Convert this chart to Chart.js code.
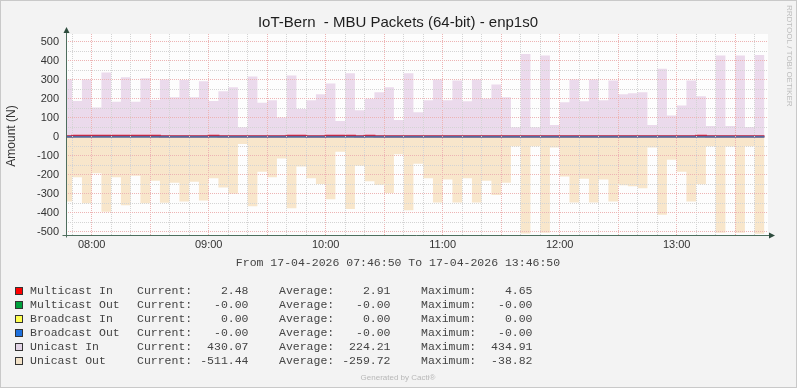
<!DOCTYPE html>
<html>
<head>
<meta charset="utf-8">
<title>IoT-Bern - MBU Packets (64-bit) - enp1s0</title>
<script src="https://cdn.jsdelivr.net/npm/chart.js@4.4.1/dist/chart.umd.min.js"></script>
<style>
    html, body { margin: 0; padding: 0; background: #F3F3F3; }
    #wrap { width: 797px; height: 388px; }
</style>
</head>
<body>
<div id="wrap"><canvas id="mbuChart" width="797" height="388"></canvas></div>
<script>
// ============================================
// DATA
// ============================================

const graphTitle = 'IoT-Bern  - MBU Packets (64-bit) - enp1s0';
const axisTitle = 'Amount (N)';
const periodText = 'From 17-04-2026 07:46:50 To 17-04-2026 13:46:50';
const creditText = 'Generated by Cacti®';
const watermark = 'RRDTOOL / TOBI OETIKER';

// time in minutes since midnight
const viewStart = 7 * 60 + 46 + 50 / 60;   // 07:46:50
const viewEnd = 13 * 60 + 46 + 50 / 60;    // 13:46:50
const firstSlot = 7 * 60 + 45;             // first 5 min slot: 07:45
const slotMinutes = 5;

const xTickLabels = ['08:00', '09:00', '10:00', '11:00', '12:00', '13:00'];
const yTickLabels = [500, 400, 300, 200, 100, 0, -100, -200, -300, -400, -500];

// one value per 5 minute slot, 07:45 ... 13:40
const unicastIn = [
    300, 188, 300, 153, 338, 183, 312, 183, 307, 193,
    300, 207, 298, 207, 291, 188, 239, 260, 49, 317,
    178, 192, 101, 322, 146, 192, 223, 280, 82, 333,
    139, 200, 233, 260, 87, 333, 129, 192, 300, 192,
    296, 186, 300, 199, 275, 207, 49, 434.91, 49, 427,
    61, 181, 300, 186, 300, 192, 296, 223, 228, 233,
    61, 357, 111, 164, 296, 213, 56, 427, 56, 427,
    51, 430.07
];

const unicastOut = [
    -341, -214, -350, -192, -395, -214, -361, -206, -350, -232,
    -348, -242, -341, -237, -336, -219, -267, -301, -38.82, -366,
    -185, -214, -115, -376, -157, -219, -249, -329, -80, -381,
    -153, -235, -254, -296, -92, -387, -143, -219, -347, -226,
    -347, -219, -347, -232, -307, -242, -51, -510, -51, -505,
    -57, -209, -347, -221, -347, -226, -341, -256, -261, -272,
    -57, -411, -122, -185, -341, -251, -51, -505, -52, -505,
    -51, -511.44
];

const multicastIn = [
    2.6, 4.4, 4.5, 4.3, 4.65, 4.4, 4.3, 4.5, 4.4, 4.3,
    2.5, 2.4, 2.6, 2.5, 2.4, 4.3, 2.5, 2.6, 2.2, 2.5,
    2.4, 2.6, 2.3, 4.4, 4.3, 2.5, 2.6, 4.4, 4.5, 4.3,
    2.4, 4.3, 2.5, 2.6, 2.4, 2.5, 2.3, 2.6, 2.5, 2.4,
    2.5, 2.6, 2.5, 2.4, 2.3, 2.5, 2.2, 2.6, 2.5, 2.4,
    2.5, 2.6, 2.5, 2.4, 2.5, 2.6, 2.5, 2.4, 2.3, 2.5,
    2.6, 2.4, 2.5, 2.6, 2.5, 4.3, 2.4, 2.5, 2.6, 2.4,
    2.5, 2.48
];

// Multicast Out, Broadcast In, Broadcast Out: flat 0.00 over the whole period
const broadcastOut = [0, 0];

// legend
const legendNames = ['Multicast In', 'Multicast Out', 'Broadcast In', 'Broadcast Out', 'Unicast In', 'Unicast Out'];
const legendColors = ['#FF0000', '#00A03C', '#FFFF50', '#1E70DD', '#E2D4E6', '#F2E2C8'];
const legendCurrent = ['2.48', '-0.00', '0.00', '-0.00', '430.07', '-511.44'];
const legendAverage = ['2.91', '-0.00', '0.00', '-0.00', '224.21', '-259.72'];
const legendMaximum = ['4.65', '-0.00', '0.00', '-0.00', '434.91', '-38.82'];

// ============================================
// HELPERS
// ============================================

const majorGrid = '#EDB4B4';
const minorGrid = '#D4D4D4';

function toPoints(values) {
    const pts = values.map((v, i) => ({ x: firstSlot + i * slotMinutes, y: v }));
    pts.push({ x: firstSlot + values.length * slotMinutes, y: values[values.length - 1] });
    return pts;
}

function fmtTime(m) {
    const h = Math.floor(m / 60);
    const mm = Math.round(m % 60);
    return String(h).padStart(2, '0') + ':' + String(mm).padStart(2, '0');
}

// ============================================
// DECORATION (rrdtool look)
// ============================================

const rrdDecor = {
    id: 'rrdDecor',
    beforeDraw(chart) {
        const { ctx, chartArea: a } = chart;
        ctx.save();
        ctx.fillStyle = '#F3F3F3';
        ctx.fillRect(0, 0, chart.width, chart.height);
        ctx.fillStyle = '#FDFDFD';
        ctx.fillRect(a.left, a.top, a.right - a.left, a.bottom - a.top);
        ctx.strokeStyle = '#C9C9C9';
        ctx.lineWidth = 1;
        ctx.strokeRect(0.5, 0.5, chart.width - 1, chart.height - 1);
        ctx.restore();
    },
    afterDraw(chart) {
        const { ctx, chartArea: a } = chart;
        ctx.save();

        // axes + arrows
        const ax = Math.round(a.left) + 0.5;
        const ay = Math.round(a.bottom) - 0.5;
        ctx.strokeStyle = '#4E6E5E';
        ctx.lineWidth = 1;
        ctx.beginPath();
        ctx.moveTo(ax, ay + 2);
        ctx.lineTo(ax, a.top - 2);
        ctx.moveTo(ax - 4, ay);
        ctx.lineTo(a.right + 2, ay);
        ctx.stroke();
        ctx.fillStyle = '#2E4C3E';
        ctx.beginPath();
        ctx.moveTo(ax, a.top - 7);
        ctx.lineTo(ax - 3, a.top - 1);
        ctx.lineTo(ax + 3, a.top - 1);
        ctx.closePath();
        ctx.fill();
        ctx.beginPath();
        ctx.moveTo(a.right + 7, ay);
        ctx.lineTo(a.right + 1, ay - 3);
        ctx.lineTo(a.right + 1, ay + 3);
        ctx.closePath();
        ctx.fill();

        // title
        ctx.fillStyle = '#1E1E1E';
        ctx.font = '15px "Liberation Sans"';
        ctx.textAlign = 'center';
        ctx.textBaseline = 'alphabetic';
        ctx.fillText(graphTitle, 398, 27);

        // y axis title
        ctx.save();
        ctx.translate(12, 136);
        ctx.rotate(-Math.PI / 2);
        ctx.font = '12px "Liberation Sans"';
        ctx.fillStyle = '#333';
        ctx.textBaseline = 'middle';
        ctx.fillText(axisTitle, 0, 0);
        ctx.restore();

        // period line
        ctx.font = '11.5px "Liberation Mono"';
        ctx.fillStyle = '#444';
        ctx.textBaseline = 'middle';
        ctx.fillText(periodText, 398, 263);

        // legend
        legendNames.forEach((name, i) => {
            const y = 291 + i * 14;
            ctx.fillStyle = legendColors[i];
            ctx.fillRect(15, y - 4, 8, 8);
            ctx.strokeStyle = '#333';
            ctx.strokeRect(15.5, y - 3.5, 7, 7);

            ctx.fillStyle = '#444';
            ctx.textAlign = 'left';
            ctx.fillText(name, 30, y);
            ctx.fillText('Current:', 137, y);
            ctx.fillText('Average:', 279, y);
            ctx.fillText('Maximum:', 421, y);
            ctx.textAlign = 'right';
            ctx.fillText(legendCurrent[i], 248.5, y);
            ctx.fillText(legendAverage[i], 390.5, y);
            ctx.fillText(legendMaximum[i], 532.5, y);
        });

        // footer
        ctx.textAlign = 'center';
        ctx.font = '8px "Liberation Sans"';
        ctx.fillStyle = '#B8B8B8';
        ctx.fillText(creditText, 398, 378);

        // watermark on the right edge
        ctx.translate(789, 5);
        ctx.rotate(Math.PI / 2);
        ctx.textAlign = 'left';
        ctx.fillStyle = '#BDBDBD';
        ctx.fillText(watermark, 0, 0);

        ctx.restore();
    }
};

// ============================================
// CHART
// ============================================

const ctx = document.getElementById('mbuChart').getContext('2d');

new Chart(ctx, {
    type: 'line',
    data: {
        datasets: [
            {
                label: 'Broadcast Out',
                data: [
                    { x: firstSlot, y: broadcastOut[0] },
                    { x: firstSlot + unicastIn.length * slotMinutes, y: broadcastOut[1] }
                ],
                borderColor: '#56689E',
                borderWidth: 2,
                pointRadius: 0,
                fill: false,
            },
            {
                label: 'Multicast In',
                data: toPoints(multicastIn),
                borderColor: '#E3162C',
                borderWidth: 2,
                stepped: 'before',
                pointRadius: 0,
                fill: false,
            },
            {
                label: 'Unicast Out',
                data: toPoints(unicastOut),
                borderColor: 'rgba(0,0,0,0)',
                backgroundColor: '#F8E6CB',
                stepped: 'before',
                pointRadius: 0,
                fill: 'origin',
            },
            {
                label: 'Unicast In',
                data: toPoints(unicastIn),
                borderColor: 'rgba(0,0,0,0)',
                backgroundColor: '#EBDAEC',
                stepped: 'before',
                pointRadius: 0,
                fill: 'origin',
            }
        ]
    },
    options: {
        responsive: false,
        animation: false,
        devicePixelRatio: 1,
        layout: { padding: { left: 0, right: 29, top: 34, bottom: 0 } },
        plugins: {
            legend: { display: false },
            title: { display: false },
            tooltip: { enabled: false },
        },
        scales: {
            x: {
                type: 'linear',
                min: viewStart,
                max: viewEnd,
                afterBuildTicks: scale => {
                    const ticks = [];
                    for (let m = Math.ceil(viewStart / 10) * 10; m <= viewEnd; m += 10) ticks.push({ value: m });
                    scale.ticks = ticks;
                },
                afterFit: scale => { scale.height = 152.5; },
                grid: {
                    z: 1,
                    drawTicks: false,
                    color: c => (c.tick && c.tick.value % 30 === 0) ? majorGrid : minorGrid,
                },
                border: { display: false, dash: [1, 1] },
                ticks: {
                    autoSkip: false,
                    maxRotation: 0,
                    padding: 3,
                    color: '#333',
                    font: { family: 'Liberation Sans', size: 11 },
                    callback: v => xTickLabels.includes(fmtTime(v)) ? fmtTime(v) : '',
                }
            },
            y: {
                min: -520,
                max: 540,
                afterBuildTicks: scale => {
                    const ticks = [];
                    for (let v = -500; v <= 500; v += 50) ticks.push({ value: v });
                    scale.ticks = ticks;
                },
                afterFit: scale => { scale.width = 66; },
                grid: {
                    z: 1,
                    drawTicks: false,
                    color: c => {
                        if (!c.tick || c.tick.value === 0) return 'rgba(0,0,0,0)';
                        return c.tick.value % 100 === 0 ? majorGrid : minorGrid;
                    },
                },
                border: { display: false, dash: [1, 1] },
                ticks: {
                    autoSkip: false,
                    padding: 7,
                    color: '#333',
                    font: { family: 'Liberation Sans', size: 11 },
                    callback: v => yTickLabels.includes(v) ? String(v) : '',
                }
            }
        }
    },
    plugins: [rrdDecor]
});
</script>
</body>
</html>
